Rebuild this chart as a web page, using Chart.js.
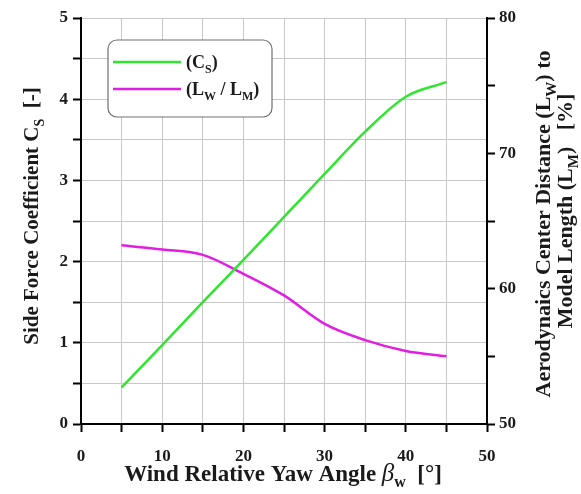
<!DOCTYPE html>
<html>
<head>
<meta charset="utf-8">
<script src="https://cdn.jsdelivr.net/npm/chart.js@4/dist/chart.umd.min.js"></script>
<style>
  html, body { margin: 0; padding: 0; background: #fff; }
  #wrap { width: 581px; height: 494px; position: relative; }
</style>
</head>
<body>
<div id="wrap"><canvas id="myChart" width="581" height="494"></canvas></div>
<script>
// yaw angle in degrees
const yawAngles = [5, 10, 15, 20, 25, 30, 35, 40, 45];
// side force coefficient Cs (left axis)
const sideForce = [0.45, 0.97, 1.5, 2.02, 2.55, 3.08, 3.6, 4.03, 4.21];
// aerodynamic centre distance / model length in % (right axis)
const centerRatio = [63.2, 62.9, 62.5, 61.1, 59.5, 57.4, 56.2, 55.4, 55.0];

const xTickLabels = [0, 10, 20, 30, 40, 50];
const leftTickLabels = [0, 1, 2, 3, 4, 5];
const rightTickLabels = [50, 60, 70, 80];

const seriesNames = [
  [['(C', 0], ['S', 1], [')', 0]],
  [['(L', 0], ['W', 1], [' / L', 0], ['M', 1], [')', 0]]
];

const SERIF = '"Liberation Serif", "DejaVu Serif", serif';
const green = '#2fe62f';
const magenta = '#e21ee2';

function toPoints(xs, ys) {
  return xs.map((x, i) => ({ x: x, y: ys[i] }));
}

// writes a run of text pieces: 0 normal, 1 subscript, 2 italic symbol
function drawParts(ctx, parts, x, y, size, align) {
  const subSize = Math.round(size * 0.68);
  const setFont = p => {
    if (p[1] === 1) ctx.font = 'bold ' + subSize + 'px ' + SERIF;
    else if (p[1] === 2) ctx.font = 'italic ' + (size + 2) + 'px ' + SERIF;
    else ctx.font = 'bold ' + size + 'px ' + SERIF;
  };
  let total = 0;
  parts.forEach(p => { setFont(p); total += ctx.measureText(p[0]).width; });
  let cx = align === 'center' ? x - total / 2 : x;
  ctx.textBaseline = 'alphabetic';
  ctx.textAlign = 'left';
  parts.forEach(p => {
    setFont(p);
    const dy = p[1] === 1 ? size * 0.28 : 0;
    ctx.fillText(p[0], cx, y + dy);
    cx += ctx.measureText(p[0]).width;
  });
}

const decorations = {
  id: 'decorations',
  afterDraw(chart) {
    const ctx = chart.ctx;
    ctx.save();
    ctx.fillStyle = '#1a1a1a';

    // axis titles
    drawParts(ctx, [['Wind Relative Yaw Angle ', 0], ['\u03B2', 2], ['w', 1], ['  [\u00B0]', 0]], 283, 481, 23, 'center');

    ctx.save();
    ctx.translate(38, 216);
    ctx.rotate(-Math.PI / 2);
    drawParts(ctx, [['Side Force Coefficient C', 0], ['S', 1], ['  [-]', 0]], 0, 0, 21, 'center');
    ctx.restore();

    ctx.save();
    ctx.translate(550, 224);
    ctx.rotate(-Math.PI / 2);
    drawParts(ctx, [['Aerodynaics Center Distance (L', 0], ['W', 1], [') to', 0]], 0, 0, 22, 'center');
    ctx.restore();

    ctx.save();
    ctx.translate(572, 211);
    ctx.rotate(-Math.PI / 2);
    drawParts(ctx, [['Model Length (L', 0], ['M', 1], [')   [%]', 0]], 0, 0, 22, 'center');
    ctx.restore();

    // legend box
    const bx = 108, by = 40, bw = 164, bh = 77;
    ctx.fillStyle = '#fff';
    ctx.strokeStyle = '#707070';
    ctx.lineWidth = 1.2;
    ctx.beginPath();
    ctx.roundRect(bx, by, bw, bh, 9);
    ctx.fill();
    ctx.stroke();
    chart.data.datasets.forEach((ds, i) => {
      const ly = by + 22 + i * 27;
      ctx.strokeStyle = ds.borderColor;
      ctx.lineWidth = 2.5;
      ctx.beginPath();
      ctx.moveTo(113, ly);
      ctx.lineTo(181, ly);
      ctx.stroke();
      ctx.fillStyle = '#1a1a1a';
      drawParts(ctx, seriesNames[i], 186, ly + 6, 18, 'left');
    });
    ctx.restore();
  }
};

const tickFont = { family: SERIF, size: 17, weight: 'bold' };

new Chart(document.getElementById('myChart').getContext('2d'), {
  type: 'line',
  data: {
    datasets: [{
      label: 'Cs',
      data: toPoints(yawAngles, sideForce),
      borderColor: green,
      borderWidth: 2.5,
      pointRadius: 0,
      tension: 0.4,
      cubicInterpolationMode: 'monotone',
      yAxisID: 'y'
    }, {
      label: 'Lw / Lm',
      data: toPoints(yawAngles, centerRatio),
      borderColor: magenta,
      borderWidth: 2.5,
      pointRadius: 0,
      tension: 0.4,
      cubicInterpolationMode: 'monotone',
      yAxisID: 'y1'
    }]
  },
  options: {
    responsive: false,
    animation: false,
    layout: { padding: { top: 18, left: 0, right: 0, bottom: 0 } },
    plugins: { legend: { display: false }, tooltip: { enabled: false } },
    scales: {
      x: {
        type: 'linear', min: 0, max: 50,
        afterFit: s => { s.height = 70; },
        border: { color: '#000', width: 2 },
        grid: { color: '#c8c8c8', lineWidth: 1, tickColor: '#000', tickLength: 8, tickWidth: 2 },
        ticks: {
          stepSize: 5, padding: 14, color: '#1a1a1a', font: tickFont, maxRotation: 0,
          callback: v => xTickLabels.includes(v) ? String(v) : ''
        }
      },
      y: {
        position: 'left', min: 0, max: 5,
        afterFit: s => { s.width = 81; },
        border: { color: '#000', width: 2 },
        grid: { color: '#c8c8c8', lineWidth: 1, tickColor: '#000', tickLength: 8, tickWidth: 2 },
        ticks: {
          stepSize: 0.5, padding: 5, color: '#1a1a1a', font: tickFont,
          callback: v => leftTickLabels.includes(v) ? String(v) : ''
        }
      },
      y1: {
        position: 'right', min: 50, max: 80,
        afterFit: s => { s.width = 94; },
        border: { color: '#000', width: 2 },
        grid: { drawOnChartArea: false, tickColor: '#000', tickLength: 8, tickWidth: 2 },
        ticks: {
          stepSize: 5, padding: 4, color: '#1a1a1a', font: tickFont,
          callback: v => rightTickLabels.includes(v) ? String(v) : ''
        }
      }
    }
  },
  plugins: [decorations]
});
</script>
</body>
</html>
